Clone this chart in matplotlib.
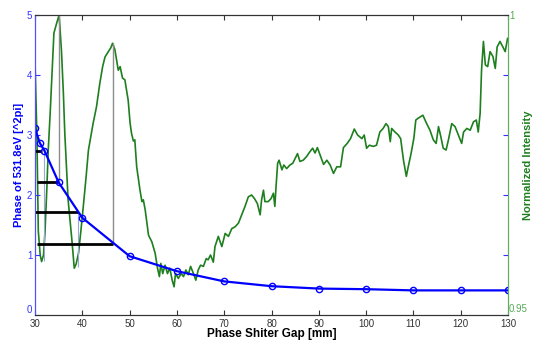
import matplotlib
matplotlib.use("Agg")
import matplotlib.pyplot as plt

plt.rcParams['font.family'] = ['Liberation Sans', 'DejaVu Sans']

# Blue: phase vs gap
gap = [30, 31, 32, 35, 40, 50, 60, 70, 80, 90, 100, 110, 120, 130]
phase = [3.11, 2.87, 2.74, 2.21, 1.62, 0.98, 0.73, 0.56, 0.48, 0.44, 0.43, 0.41, 0.41, 0.41]

# Green: normalized intensity vs gap
int_x = [30.0,30.4,30.7,31.1,31.4,31.8,32.1,32.5,32.8,33.2,33.5,34.0,34.6,35.1,35.6,36.0,36.3,37.0,37.8,38.3,
         38.7,39.2,39.7,40.2,40.8,41.3,42.3,43.0,43.7,44.3,44.8,45.5,46.0,46.4,46.9,47.6,48.0,48.5,49.0,49.7,
         50.1,50.4,50.8,51.1,51.5,52.2,52.6,52.9,53.3,54.0,54.7,55.4,55.9,56.3,56.6,57.0,57.5,58.0,58.5,59.0,
         59.4,59.7,60.3,60.9,61.4,61.9,62.4,62.9,63.5,64.0,64.5,65.0,65.6,66.2,66.6,67.1,67.7,68.05,68.75,69.5,
         70.2,70.9,71.6,72.3,73.0,73.7,74.4,75.1,75.8,76.4,77.0,77.6,77.9,78.3,78.6,79.3,79.9,80.4,80.7,81.0,
         81.3,81.6,82.2,82.6,83.2,83.9,84.5,85.0,85.5,86.0,86.7,87.4,88.1,88.7,89.2,89.7,90.3,91.0,91.7,92.4,
         93.1,93.8,94.6,95.2,96.0,96.7,97.5,98.2,99.1,99.6,100.1,100.7,101.5,102.2,102.9,103.6,104.2,104.7,105.1,105.4,
         106.1,106.8,107.3,107.9,108.5,108.9,109.5,110.1,110.5,111.0,112.0,112.8,113.5,114.2,114.8,115.3,115.8,116.3,116.9,117.4,
         118.1,118.8,119.5,120.2,120.6,121.3,122.0,122.7,123.3,123.7,124.1,124.4,124.8,125.2,125.7,126.2,126.8,127.3,127.7,128.3,
         128.9,129.4,129.9]
intensity = [0.9925,0.9800,0.9640,0.9600,0.9589,0.9600,0.9636,0.9710,0.9775,0.9835,0.9886,0.9970,0.9987,1.0000,0.9940,0.9870,0.9803,0.9692,0.9625,0.9578,
             0.9585,0.9603,0.9640,0.9680,0.9730,0.9775,0.9820,0.9847,0.9886,0.9914,0.9930,0.9939,0.9945,0.9953,0.9942,0.9908,0.9914,0.9895,0.9892,0.9858,
             0.9820,0.9803,0.9790,0.9792,0.9747,0.9708,0.9689,0.9692,0.9675,0.9633,0.9622,0.9603,0.9578,0.9564,0.9586,0.9569,0.9583,0.9569,0.9578,0.9558,
             0.9547,0.9569,0.9561,0.9569,0.9564,0.9575,0.9567,0.9581,0.9569,0.9558,0.9575,0.9583,0.9581,0.9594,0.9592,0.9600,0.9588,0.9614,0.9631,0.9614,
             0.9636,0.9631,0.9644,0.9647,0.9653,0.9667,0.9681,0.9697,0.9700,0.9694,0.9686,0.9667,0.9692,0.9708,0.9689,0.9689,0.9694,0.9703,0.9681,0.9719,
             0.9753,0.9758,0.9742,0.9750,0.9744,0.9750,0.9753,0.9761,0.9769,0.9756,0.9758,0.9764,0.9772,0.9778,0.9770,0.9779,0.9766,0.9751,0.9758,0.9750,
             0.9736,0.9747,0.9747,0.9779,0.9786,0.9794,0.9810,0.9800,0.9794,0.9800,0.9778,0.9783,0.9781,0.9783,0.9805,0.9811,0.9819,0.9814,0.9789,0.9811,
             0.9805,0.9800,0.9794,0.9758,0.9731,0.9747,0.9769,0.9795,0.9825,0.9828,0.9833,0.9819,0.9808,0.9792,0.9786,0.9814,0.9797,0.9778,0.9775,0.9792,
             0.9819,0.9814,0.9800,0.9786,0.9805,0.9811,0.9808,0.9822,0.9825,0.9805,0.9836,0.9908,0.9956,0.9917,0.9914,0.9939,0.9931,0.9911,0.9947,0.9956,
             0.9947,0.9939,0.9961]

# Annotation guides (phase level -> gap where curve reaches it)
h_levels = [2.74, 2.21, 1.72, 1.19]
h_start = [30.0, 30.35, 30.0, 30.35]
h_end = [31.4, 34.9, 39.15, 46.5]
peak_x = [35.1, 46.45]
peak_top = [5.0, 4.53]
peak_bottom = [2.21, 1.19]
valley_x = [31.8, 39.0]
valley_top = [2.74, 1.72]
valley_bottom = [0.9, 0.8]

xticks = [30, 40, 50, 60, 70, 80, 90, 100, 110, 120, 130]
yticks = [0, 1, 2, 3, 4, 5]
ytick_labels = ['', '1', '2', '3', '4', '5']
right_ticks = [0.95, 1.0]
right_labels = ['', '1']

BLUE = '#0000ff'
GREEN = '#1e7f1e'

fig = plt.figure(figsize=(5.4, 3.42), dpi=100)
ax = fig.add_axes([0.0648, 0.079, 0.876, 0.877])
ax2 = ax.twinx()
ax.set_zorder(ax2.get_zorder() + 1)
ax.patch.set_visible(False)

ax2.plot(int_x, intensity, color=GREEN, lw=1.2)
ax2.set_ylim(0.95, 1.0)
ax2.set_yticks(right_ticks)
ax2.set_yticklabels(right_labels)
ax2.tick_params(axis='y', colors='#55aa55', labelsize=7, length=0, pad=1)
ax2.set_ylabel('Normalized Intensity', color=GREEN, fontsize=8, fontweight='bold', labelpad=6)
# bottom right label raised slightly, as in the reference
ax2.text(1.002, 0.9502, '0.95', transform=ax2.get_yaxis_transform(), color='#55aa55',
         fontsize=7, ha='left', va='bottom')

ax.vlines(peak_x, peak_bottom, peak_top, colors='#8c8c8c', lw=1.0)
ax.vlines(valley_x, valley_bottom, valley_top, colors='#9aa6d8', lw=0.8)
ax.hlines(h_levels, h_start, h_end, colors='black', lw=2.0)
ax.plot(gap, phase, color=BLUE, lw=1.6, marker='o', ms=4.5, mfc='none', mew=1.0)

ax.set_xlim(30, 130)
ax.set_ylim(0, 5)
ax.set_xticks(xticks)
ax.set_yticks(yticks)
ax.set_yticklabels(ytick_labels)
ax.text(-0.006, 0, '0', transform=ax.get_yaxis_transform(), color='#3333ff',
        fontsize=7, ha='right', va='bottom')
ax.tick_params(axis='x', direction='in', top=True, length=3.5, labelsize=7, colors='#333333', pad=3)
ax.tick_params(axis='y', direction='in', right=True, length=3.5, labelsize=7, colors='#3333ff', pad=2)
ax.set_xlabel('Phase Shiter Gap [mm]', fontsize=8.5, fontweight='bold', labelpad=-0.5)
ax.set_ylabel('Phase of 531.8eV [^2pi]', color=BLUE, fontsize=8, fontweight='bold', labelpad=2)

for a in (ax, ax2):
    a.spines['left'].set_color('#5050ff')
    a.spines['right'].set_color('#5fae5f')
    a.spines['top'].set_color('#333333')
    a.spines['bottom'].set_color('#333333')
    for s in a.spines.values():
        s.set_linewidth(0.8)

fig.savefig('out.png', dpi=100)
